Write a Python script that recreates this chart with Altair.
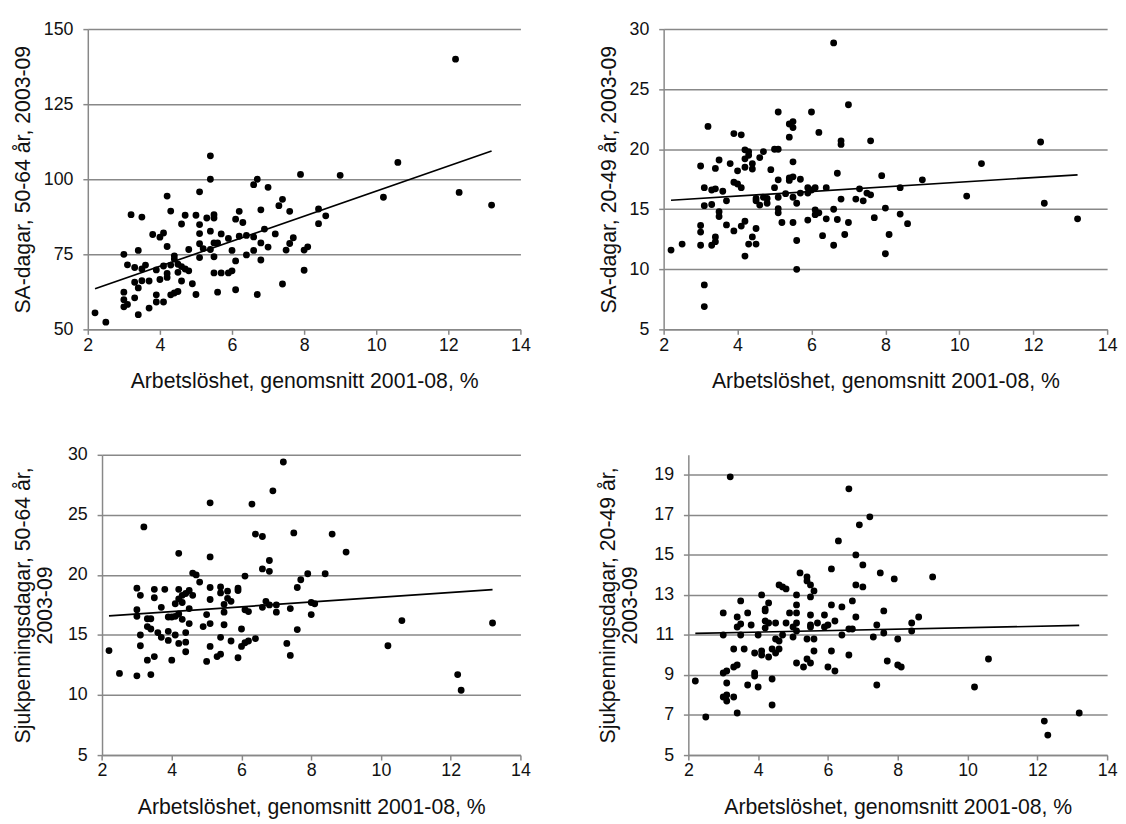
import altair as alt
import pandas as pd

FONT = "Liberation Sans"
GRAY = "#888888"
X_TITLE = "Arbetslöshet, genomsnitt 2001-08, %"
X_TICKS = [2, 4, 6, 8, 10, 12, 14]

# Panel 1: SA-dagar, 50-64 år
p1_x = [
    2.2, 2.5,
    3.0, 3.0, 3.0, 3.0, 3.1, 3.1, 3.2, 3.3, 3.3, 3.3,
    3.4, 3.4, 3.4, 3.5, 3.5, 3.5, 3.6, 3.7, 3.7, 3.8,
    3.9, 3.9, 3.9, 4.0, 4.0, 4.1, 4.1, 4.1,
    4.2, 4.2, 4.2, 4.2, 4.3, 4.3, 4.3, 4.4, 4.4, 4.4,
    4.5, 4.5, 4.5, 4.6, 4.6, 4.6, 4.7, 4.7, 4.8, 4.8, 4.9,
    5.0, 5.0, 5.1, 5.1, 5.1, 5.1, 5.1, 5.2, 5.3,
    5.4, 5.4, 5.4, 5.4, 5.5, 5.5, 5.5, 5.5, 5.5,
    5.6, 5.6, 5.7, 5.7, 5.9, 5.9, 6.0, 6.0,
    6.1, 6.1, 6.1, 6.2, 6.2, 6.3, 6.4, 6.4,
    6.6, 6.6, 6.6, 6.7, 6.7, 6.8, 6.8, 6.8, 6.9, 7.0, 7.0,
    7.2, 7.3, 7.4, 7.4, 7.5, 7.6, 7.6, 7.7, 7.9,
    8.0, 8.0, 8.1, 8.4, 8.4, 8.6, 9.0,
    10.2, 10.6, 12.2, 12.3, 13.2,
]
p1_y = [
    55.5, 52.4,
    75.0, 62.4, 59.9, 57.5, 71.5, 58.3, 88.2, 70.6, 65.7, 60.5,
    76.3, 63.8, 54.9, 87.4, 70.1, 66.2, 71.4, 66.1, 57.1, 81.6,
    69.8, 61.5, 59.1, 80.7, 66.6, 82.1, 71.1, 59.1,
    94.4, 77.6, 68.6, 67.3, 89.4, 71.4, 61.5, 74.5, 73.4, 62.1,
    69.0, 62.6, 71.7, 85.1, 70.9, 66.1, 88.0, 70.1, 76.6, 69.5, 65.2,
    88.0, 61.6, 95.8, 84.9, 81.9, 78.5, 73.9, 76.9, 87.1,
    107.8, 100.0, 82.7, 76.6, 88.2, 87.1, 78.8, 74.2, 68.8,
    78.8, 62.4, 81.8, 68.8, 80.3, 68.8, 76.3, 69.5,
    86.7, 72.8, 63.2, 89.3, 81.0, 85.6, 81.3, 74.8,
    98.2, 80.8, 76.3, 100.0, 61.6, 89.8, 78.8, 73.1, 83.4, 97.3, 77.4,
    81.8, 91.2, 93.3, 65.1, 76.4, 89.3, 78.6, 80.5, 101.6,
    76.4, 69.7, 77.5, 90.1, 85.2, 87.8, 101.3,
    94.0, 105.6, 140.0, 95.6, 91.4,
]

# Panel 2: SA-dagar, 20-49 år
p2_x = [
    2.2, 2.5,
    3.0, 3.0, 3.0, 3.0, 3.1, 3.1, 3.1, 3.1, 3.2, 3.3, 3.3, 3.3,
    3.4, 3.4, 3.4, 3.4, 3.5, 3.5, 3.5, 3.6, 3.7, 3.7, 3.8,
    3.9, 3.9, 3.9, 4.0, 4.0, 4.1, 4.1, 4.1,
    4.2, 4.2, 4.2, 4.2, 4.2, 4.3, 4.3, 4.3, 4.4, 4.4, 4.4,
    4.5, 4.5, 4.5, 4.5, 4.6, 4.6, 4.7, 4.7, 4.8, 4.8, 4.9,
    5.0, 5.0, 5.1, 5.1, 5.1, 5.1, 5.1, 5.1, 5.2, 5.3,
    5.4, 5.4, 5.4, 5.4, 5.5, 5.5, 5.5, 5.5, 5.5, 5.5,
    5.6, 5.6, 5.6, 5.7, 5.7, 5.9, 5.9, 5.9, 6.0, 6.0,
    6.1, 6.1, 6.1, 6.2, 6.2, 6.3, 6.4, 6.4,
    6.6, 6.6, 6.6, 6.7, 6.7, 6.8, 6.8, 6.8, 6.9, 7.0, 7.0,
    7.2, 7.3, 7.4, 7.5, 7.6, 7.6, 7.7, 7.9,
    8.0, 8.0, 8.1, 8.4, 8.4, 8.6, 9.0,
    10.2, 10.6, 12.2, 12.3, 13.2,
]
p2_y = [
    11.6, 12.1,
    18.6, 13.65, 13.1, 12.0, 16.8, 15.3, 8.7, 6.9, 21.9, 16.6, 15.4, 12.0,
    18.4, 16.7, 12.7, 12.3, 19.1, 14.8, 14.4, 16.5, 15.7, 13.7, 18.8,
    21.3, 17.25, 13.2, 18.2, 17.1, 21.2, 16.8, 13.6,
    19.95, 19.2, 18.5, 14.0, 11.1, 19.8, 19.5, 12.1, 18.8, 18.35, 12.7,
    15.9, 15.7, 13.4, 12.1, 19.3, 15.35, 19.8, 16.0, 15.9, 15.5, 18.3,
    20.0, 16.8, 23.1, 20.0, 17.45, 16.0, 15.05, 14.7, 13.9, 16.3,
    22.1, 21.0, 17.6, 17.4, 22.3, 21.8, 18.95, 17.7, 16.0, 13.9,
    15.5, 12.4, 10.0, 17.5, 16.35, 16.8, 16.35, 14.1, 23.1, 16.6,
    16.8, 14.95, 14.55, 21.4, 14.7, 12.8, 16.8, 14.2,
    28.85, 15.0, 12.0, 18.0, 14.15, 20.7, 20.4, 15.85, 12.9, 23.7, 13.9,
    15.85, 16.7, 15.7, 16.35, 20.7, 16.2, 14.3, 17.8,
    15.1, 11.3, 12.9, 16.8, 14.6, 13.8, 17.45,
    16.1, 18.8, 20.6, 15.5, 14.2,
]

# Panel 3: Sjukpenningsdagar, 50-64 år
p3_x = [
    2.2, 2.5,
    3.0, 3.0, 3.0, 3.0, 3.1, 3.1, 3.1, 3.2, 3.3, 3.3, 3.3,
    3.4, 3.4, 3.4, 3.5, 3.5, 3.5, 3.6, 3.7, 3.7, 3.8,
    3.9, 3.9, 3.9, 4.0, 4.0, 4.1, 4.1, 4.1,
    4.2, 4.2, 4.2, 4.2, 4.2, 4.3, 4.3, 4.3, 4.4, 4.4, 4.4, 4.4,
    4.5, 4.5, 4.5, 4.6, 4.6, 4.7, 4.8, 4.9,
    5.0, 5.0, 5.1, 5.1, 5.1, 5.1, 5.1, 5.1, 5.3,
    5.4, 5.4, 5.4, 5.4, 5.5, 5.5, 5.5,
    5.6, 5.6, 5.7, 5.7, 5.9, 5.9, 5.9, 6.0, 6.0,
    6.1, 6.1, 6.1, 6.2, 6.2, 6.3, 6.4, 6.4,
    6.6, 6.6, 6.6, 6.7, 6.8, 6.8, 6.8, 6.9, 7.0, 7.0,
    7.2, 7.3, 7.4, 7.4, 7.5, 7.6, 7.6, 7.7, 7.9,
    8.0, 8.0, 8.1, 8.4, 8.6, 9.0,
    10.2, 10.6, 12.2, 12.3, 13.2,
]
p3_y = [
    13.7, 11.8,
    18.9, 17.1, 16.55, 11.6, 18.3, 15.0, 14.1, 24.0, 16.35, 15.7, 12.9,
    16.35, 15.5, 11.7, 18.8, 18.1, 13.2, 15.2, 17.3, 14.8, 18.8,
    16.5, 15.3, 14.55, 16.5, 12.9, 17.6, 16.55, 15.0,
    21.8, 18.8, 18.0, 16.75, 14.3, 18.3, 17.7, 16.3, 18.45, 14.4, 13.6, 15.2,
    18.7, 17.2, 15.95, 20.15, 18.3, 20.0, 19.4, 15.7,
    16.7, 12.8, 26.0, 21.5, 18.95, 17.95, 15.95, 14.05, 13.2,
    19.0, 18.5, 14.8, 13.4, 17.55, 16.9, 15.85,
    18.65, 18.05, 17.8, 14.5, 18.9, 18.7, 13.1, 15.5, 14.05,
    19.9, 17.1, 14.35, 16.95, 14.5, 25.9, 23.4, 14.7,
    23.2, 20.5, 17.3, 17.8, 21.2, 20.3, 17.5, 27.0, 17.5, 16.9,
    29.4, 14.3, 17.2, 13.3, 23.5, 18.95, 15.45, 19.6, 20.1,
    17.7, 16.7, 17.6, 20.1, 23.4, 21.9,
    14.1, 16.2, 11.7, 10.4, 16.0,
]

# Panel 4: Sjukpenningsdagar, 20-49 år
p4_x = [
    2.2, 2.5,
    3.0, 3.0, 3.0, 3.0, 3.1, 3.1, 3.1, 3.1, 3.2, 3.3, 3.3, 3.3,
    3.4, 3.4, 3.4, 3.4, 3.5, 3.5, 3.5, 3.6, 3.7, 3.7, 3.8,
    3.9, 3.9, 3.9, 4.0, 4.0, 4.1, 4.1, 4.1,
    4.2, 4.2, 4.2, 4.2, 4.3, 4.3, 4.3, 4.4, 4.4, 4.4,
    4.5, 4.5, 4.5, 4.6, 4.6, 4.6, 4.7, 4.7, 4.8, 4.8, 4.9,
    5.0, 5.0, 5.1, 5.1, 5.1, 5.1, 5.1, 5.1, 5.2, 5.3,
    5.4, 5.4, 5.4, 5.4, 5.5, 5.5, 5.5, 5.5, 5.5, 5.5,
    5.6, 5.6, 5.6, 5.7, 5.9, 5.9, 6.0, 6.0,
    6.1, 6.1, 6.1, 6.2, 6.2, 6.3, 6.4, 6.4,
    6.6, 6.6, 6.6, 6.7, 6.7, 6.8, 6.8, 6.8, 6.9, 7.0, 7.0,
    7.2, 7.3, 7.4, 7.4, 7.5, 7.6, 7.6, 7.7, 7.9,
    8.0, 8.0, 8.1, 8.4, 8.4, 8.6, 9.0,
    10.2, 10.6, 12.2, 12.3, 13.2,
]
p4_y = [
    8.7, 6.9,
    12.1, 11.0, 9.1, 7.9, 9.2, 8.6, 8.0, 7.7, 18.9, 10.3, 9.4, 7.9,
    11.9, 11.4, 9.5, 7.1, 12.7, 11.55, 11.0, 10.3, 12.1, 8.5, 11.5,
    10.1, 9.1, 8.95, 11.0, 8.4, 13.0, 10.2, 10.0,
    12.3, 12.2, 11.7, 11.35, 12.6, 11.6, 9.9, 10.3, 8.8, 7.5,
    11.6, 10.8, 10.1, 13.5, 10.3, 10.7, 13.4, 11.0, 13.3, 11.6, 12.1,
    11.4, 10.9, 13.0, 12.5, 12.1, 11.6, 11.2, 9.6, 14.1, 9.4,
    13.9, 13.7, 10.8, 9.8, 13.5, 12.9, 12.0, 11.5, 11.4, 9.6,
    13.2, 10.8, 10.2, 11.6, 12.0, 11.4, 11.5, 9.4,
    14.3, 12.5, 10.2, 11.7, 9.2, 15.7, 12.4, 11.0,
    18.3, 11.3, 10.0, 12.7, 11.3, 15.0, 13.5, 11.9, 16.5, 14.5, 13.4,
    16.9, 10.9, 11.5, 8.5, 14.1, 12.2, 11.1, 9.7, 13.8,
    10.8, 9.5, 9.4, 11.6, 11.2, 11.9, 13.9,
    8.4, 9.8, 6.7, 6.0, 7.1,
]


def panel(xs, ys, ydomain, yticks, ytitle, w, h, title_pad, inset=0):
    n = min(len(xs), len(ys))
    df = pd.DataFrame({"x": xs[:n], "y": ys[:n]})
    xscale = alt.Scale(domain=[2, 14], nice=False, zero=False)
    xaxis = alt.Axis(values=X_TICKS, title=X_TITLE, grid=False, labelFlush=False)
    yaxis = alt.Axis(values=yticks, title=ytitle, grid=True, titlePadding=title_pad)
    if inset:
        xscale = alt.Scale(domain=[2, 14], nice=False, zero=False, range=[inset, w])
        xaxis = alt.Axis(values=X_TICKS, title=X_TITLE, grid=False, labelFlush=False,
                         titleX=(inset + w) / 2)
        yaxis = alt.Axis(values=yticks, title=ytitle, grid=True, titlePadding=title_pad,
                         offset=-inset)
    xenc = alt.X("x:Q", scale=xscale, axis=xaxis)
    yenc = alt.Y("y:Q", scale=alt.Scale(domain=ydomain, nice=False, zero=False), axis=yaxis)
    pts = alt.Chart(df).mark_circle(size=48, color="black", opacity=1).encode(x=xenc, y=yenc)
    trend = (
        alt.Chart(df)
        .transform_regression("x", "y")
        .mark_line(color="black", strokeWidth=1.7)
        .encode(x=xenc, y=yenc)
    )
    return alt.layer(pts, trend).properties(width=w, height=h)


H = 304
c1 = panel(p1_x, p1_y, [50, 150], [50, 75, 100, 125, 150],
           "SA-dagar, 50-64 år, 2003-09", 438, H, 9)
c2 = panel(p2_x, p2_y, [5, 30], [5, 10, 15, 20, 25, 30],
           "SA-dagar, 20-49 år, 2003-09", 449, H, 9)
c3 = panel(p3_x, p3_y, [5, 30], [5, 10, 15, 20, 25, 30],
           ["Sjukpenningsdagar, 50-64 år,", "2003-09"], 438, H, 11, inset=14.4)
c4 = panel(p4_x, p4_y, [5, 20], [5, 7, 9, 11, 13, 15, 17, 19],
           ["Sjukpenningsdagar, 20-49 år,", "2003-09"], 424, H, 12.5)

chart = (
    alt.concat(
        c1, c2, c3, c4,
        columns=2,
        align={"row": "all", "column": "none"},
        spacing={"row": 54, "column": 67},
    )
    .properties(padding={"left": 3.8, "top": 7.3, "right": 0, "bottom": 0})
    .configure_view(stroke=None)
    .configure_axis(
        domainColor=GRAY, domainWidth=1.5,
        tickColor=GRAY, tickWidth=1.5, tickSize=5,
        gridColor=GRAY, gridWidth=1.5,
        labelFont=FONT, labelFontSize=18, labelColor="#111111",
        titleFont=FONT, titleFontSize=21.5, titleFontWeight="normal", titleColor="#111111",
    )
    .configure_axisX(labelPadding=2, titlePadding=17)
    .configure_axisY(labelPadding=10, titleLineHeight=22)
)

chart.save("out.html", embed_options={"renderer": "svg", "actions": False})
